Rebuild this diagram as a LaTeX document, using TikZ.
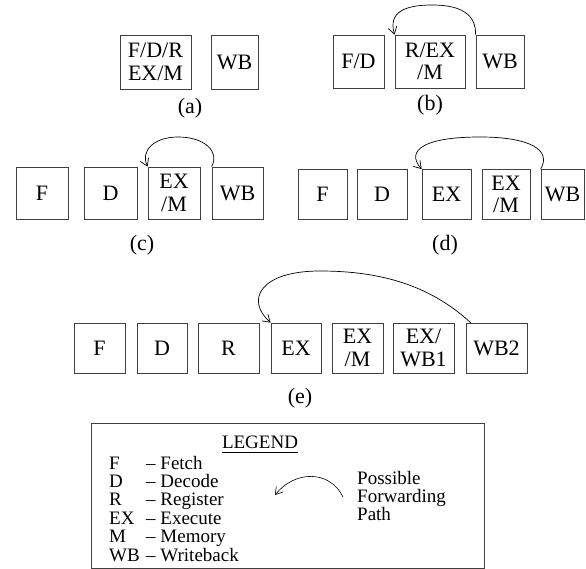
\documentclass[tikz,border=0pt]{standalone}
\usepackage{fontspec}
\setmainfont{Liberation Serif}
\usetikzlibrary{arrows.meta}
\begin{document}
\begin{tikzpicture}[x=1pt,y=-1pt,
  stage/.style={draw=black!75, line width=0.8pt, inner sep=0pt, align=center,
    font=\fontsize{22}{22.5}\selectfont},
  lab/.style={font=\fontsize{22}{22}\selectfont, inner sep=0pt},
  leg/.style={font=\fontsize{19}{18.4}\selectfont, inner sep=0pt, anchor=base west},
  fwd/.style={line width=0.7pt, -{Straight Barb[length=7pt,width=9pt]}}]
\useasboundingbox (0,0) rectangle (586,569);
% (a)
\node[stage, minimum width=71pt, minimum height=54pt] (a1) at (155.5,62) {F/D/R\\EX/M};
\node[stage, minimum width=47pt, minimum height=54pt] (a2) at (234.5,62) {WB};
\node[lab] (la) at (190,108) {(a)};
% (b)
\node[stage, minimum width=51pt, minimum height=53pt] (b1) at (358.5,61.5) {F/D};
\node[stage, minimum width=70pt, minimum height=53pt] (b2) at (430,61.5) {R/EX\\/M};
\node[stage, minimum width=48pt, minimum height=53pt] (b3) at (500,61.5) {WB};
\node[lab] (lb) at (430,105) {(b)};
\coordinate (bt) at (432,5);
\draw[line width=0.7pt] (b3.north west) .. controls (476,15) and (462,5) .. (bt);
\draw[fwd] (bt) .. controls (405,5) and (388,12) .. (b2.north west);
% (c)
\node[stage, minimum width=52pt, minimum height=52pt] (c1) at (42,193) {F};
\node[stage, minimum width=53pt, minimum height=52pt] (c2) at (110.5,193) {D};
\node[stage, minimum width=52pt, minimum height=52pt] (c3) at (174,193) {EX\\/M};
\node[stage, minimum width=51pt, minimum height=52pt] (c4) at (237.5,193) {WB};
\node[lab] (lc) at (142,245) {(c)};
\coordinate (ct) at (178,137);
\draw[line width=0.7pt] (c4.north west) .. controls (220,152) and (205,137) .. (ct);
\draw[fwd] (ct) .. controls (155,137) and (140,150) .. (c3.north west);
% (d)
\node[stage, minimum width=49pt, minimum height=50pt] (d1) at (322.5,194.5) {F};
\node[stage, minimum width=50pt, minimum height=50pt] (d2) at (382,194.5) {D};
\node[stage, minimum width=49pt, minimum height=50pt] (d3) at (446.5,194.5) {EX};
\node[stage, minimum width=48pt, minimum height=50pt] (d4) at (506,194.5) {EX\\/M};
\node[stage, minimum width=43pt, minimum height=50pt] (d5) at (562.5,194.5) {WB};
\node[lab] (ld) at (445,245) {(d)};
\coordinate (dt) at (480,137);
\draw[line width=0.7pt] (d5.north west) .. controls (552,150) and (530,137) .. (dt);
\draw[fwd] (dt) .. controls (425,137) and (405,150) .. (d3.north west);
% (e)
\node[stage, minimum width=51pt, minimum height=50pt] (e1) at (99.5,348) {F};
\node[stage, minimum width=50pt, minimum height=50pt] (e2) at (162,348) {D};
\node[stage, minimum width=61pt, minimum height=50pt] (e3) at (228.5,348) {R};
\node[stage, minimum width=50pt, minimum height=50pt] (e4) at (296,348) {EX};
\node[stage, minimum width=51pt, minimum height=50pt] (e5) at (357.5,348) {EX\\/M};
\node[stage, minimum width=61pt, minimum height=50pt] (e6) at (423.5,348) {EX/\\WB1};
\node[stage, minimum width=61pt, minimum height=50pt] (e7) at (496.5,348) {WB2};
\node[lab] (le) at (300,398) {(e)};
\coordinate (es) at (471,323);
\coordinate (et) at (320,271);
\draw[line width=0.7pt] (es) .. controls (430,285) and (380,271) .. (et);
\draw[fwd] (et) .. controls (260,271) and (245,300) .. (e4.north west);
% legend
\draw[black!75, line width=0.8pt] (91,423) rectangle (484,568);
\node[font=\fontsize{19}{18}\selectfont, inner sep=0pt, anchor=base] (lg) at (260,448) {LEGEND};
\draw[line width=0.6pt] (lg.base west) ++(0,4) coordinate (u1) -- (lg.base east |- u1);
\foreach \ab/\de/\yy [count=\i] in {F/Fetch/469, D/Decode/487.4, R/Register/505.8, EX/Execute/524.2, M/Memory/542.6, WB/Writeback/561}{
  \node[leg] (ab\i) at (109,\yy) {\ab};
  \node[leg] (de\i) at (146,\yy) {-- \de};
}
\coordinate (ls) at (343,497);
\coordinate (lt) at (275,495);
\draw[fwd, line width=0.6pt] (ls) .. controls (330,470) and (295,470) .. (lt);
\node[leg] (pf1) at (357,484) {Possible};
\node[leg] (pf2) at (357,502.4) {Forwarding};
\node[leg] (pf3) at (357,520.8) {Path};
\end{tikzpicture}
\end{document}
